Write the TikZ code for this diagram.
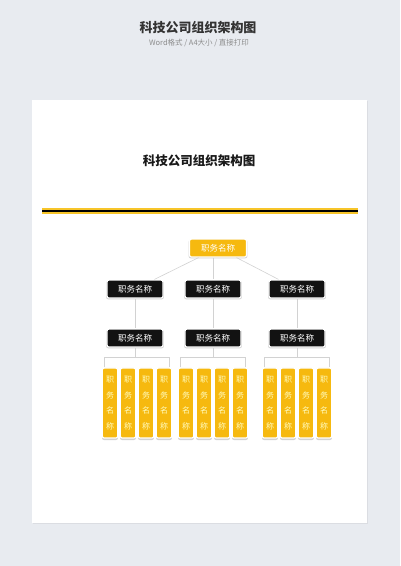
\documentclass[tikz,border=0pt]{standalone}
\usepackage{fontspec}
\setmainfont{Noto Sans CJK SC}
\usetikzlibrary{shadows}

\definecolor{back tone}{HTML}{E8EBF0}
\definecolor{job gold}{HTML}{F6B90F}
\definecolor{bar gold}{HTML}{F7C52A}
\definecolor{box dark}{HTML}{121212}
\definecolor{link gray}{HTML}{D2D2D2}
\colorlet{card text}{yellow!25!white}
\tikzset{
  boss/.style={fill=job gold, draw=white, line width=1.2pt, rounded corners=2pt,
    minimum width=57pt, minimum height=18pt, text=white, font=\fontsize{8.5}{10}\selectfont,
    drop shadow={opacity=0.35, shadow xshift=0pt, shadow yshift=-1pt, shadow scale=1.03}},
  chief/.style={boss, fill=box dark, minimum width=56pt},
  card/.style={fill=job gold, draw=white, line width=1.2pt, rounded corners=2pt,
    minimum width=15.5pt, minimum height=70pt, inner sep=0pt, align=center,
    text=card text, font=\fontsize{8}{15.5}\selectfont,
    drop shadow={opacity=0.35, shadow xshift=0pt, shadow yshift=-1pt, shadow scale=1.03}},
  link/.style={draw=link gray, line width=0.6pt}
}

\begin{document}
\begin{tikzpicture}[x=1pt, y=-1pt]
  \useasboundingbox (0,0) rectangle (400,566);
  \fill[back tone] (0,0) rectangle (400,566);

  % header
  \node[font=\fontsize{13}{15}\selectfont\bfseries, text=black!80] (head) at (198,28) {科技公司组织架构图};
  \node[font=\fontsize{7.5}{8}\selectfont, text=black!45] (subhead) at (199,43) {Word格式 / A4大小 / 直接打印};

  % sheet
  \fill[white, drop shadow={opacity=0.12, shadow xshift=0.8pt, shadow yshift=-0.8pt}] (32,100) rectangle (367,523);
  \node[font=\fontsize{12.5}{15}\selectfont\bfseries, text=black!90] (title) at (199,161) {科技公司组织架构图};
  \draw[bar gold, line width=6pt] (42,211) -- (358,211);
  \draw[black, line width=2.6pt] (42,211) -- (358,211);

  % boxes
  \node[boss] (top) at (218,248) {职务名称};
  \node[chief] (mgrA) at (135,289) {职务名称};
  \node[chief] (mgrB) at (213,289) {职务名称};
  \node[chief] (mgrC) at (297,289) {职务名称};
  \node[chief] (subA) at (135,338) {职务名称};
  \node[chief] (subB) at (213,338) {职务名称};
  \node[chief] (subC) at (297,338) {职务名称};

  \foreach \g/\gx in {A/137,B/213,C/297}
    \foreach \i/\dx in {1/-27,2/-9,3/9,4/27}
      \node[card] (card\g\i) at (\gx+\dx,403) {职\\务\\名\\称};

  % connectors
  \draw[link] (top) -- (mgrA);
  \draw[link] (mgrB |- top.south) -- (mgrB);
  \draw[link] (top) -- (mgrC);
  \foreach \g in {A,B,C} {
    \draw[link] (mgr\g) -- (sub\g);
    \draw[link] (sub\g.south) -- ++(0,10) coordinate (bus\g);
    \draw[link] ([xshift=3pt]card\g1.north west) |- (bus\g) -| ([xshift=-3pt]card\g4.north east);
  }
\end{tikzpicture}
\end{document}
